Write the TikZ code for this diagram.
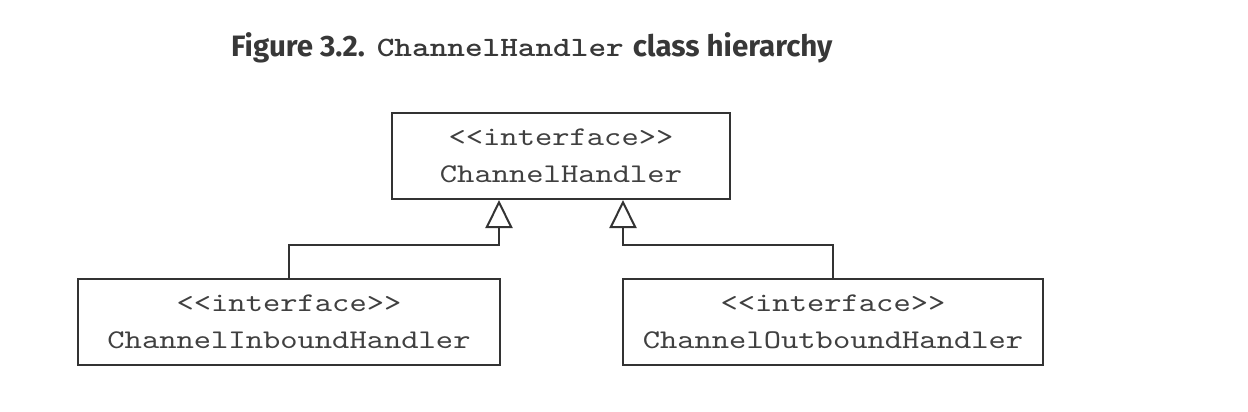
\documentclass[tikz,border=0pt]{standalone}
\usepackage{fontspec}
\setsansfont{Fira Sans}
\newfontfamily\boxmono{lmmono10-regular.otf}[FakeStretch=1.22]
\newfontfamily\titlemono{lmmonolt10-bold.otf}[FakeStretch=1.2]
\usetikzlibrary{arrows.meta}
\definecolor{boxline}{HTML}{333333}
\definecolor{boxtext}{HTML}{404040}
\definecolor{titletext}{HTML}{383838}
\tikzset{
  umlbox/.style={draw=boxline, line width=2pt, fill=white, inner sep=0pt,
    minimum height=86pt, align=center, text=boxtext,
    font=\boxmono\fontsize{27}{37}\selectfont},
  inherit/.style={draw=boxline, line width=2pt,
    -{Triangle[open, length=28pt, width=27pt, line width=2pt]}},
  titlestyle/.style={anchor=base west, inner sep=0pt, text=titletext}
}
\begin{document}
\begin{tikzpicture}[x=1pt, y=-1pt]
\useasboundingbox (0,0) rectangle (1248,412);
\node[titlestyle] (title) at (231,57)
  {{\sffamily\bfseries\fontsize{29.5}{34}\selectfont Figure 3.2.\hspace{12pt}}{\titlemono\fontsize{28}{34}\selectfont ChannelHandler}{\sffamily\bfseries\fontsize{29.5}{34}\selectfont\hspace{9pt}class hierarchy}};
\node[umlbox, minimum width=338pt] (top) at (561,156) {<<interface>>\\ChannelHandler};
\node[umlbox, minimum width=422pt] (in) at (289,322) {<<interface>>\\ChannelInboundHandler};
\node[umlbox, minimum width=420pt] (out) at (833,322) {<<interface>>\\ChannelOutboundHandler};
\coordinate (jl) at (499,245);
\coordinate (jr) at (623,245);
\draw[inherit] (in.north) |- (jl) -- (top.south -| jl);
\draw[inherit] (out.north) |- (jr) -- (top.south -| jr);
\end{tikzpicture}
\end{document}
